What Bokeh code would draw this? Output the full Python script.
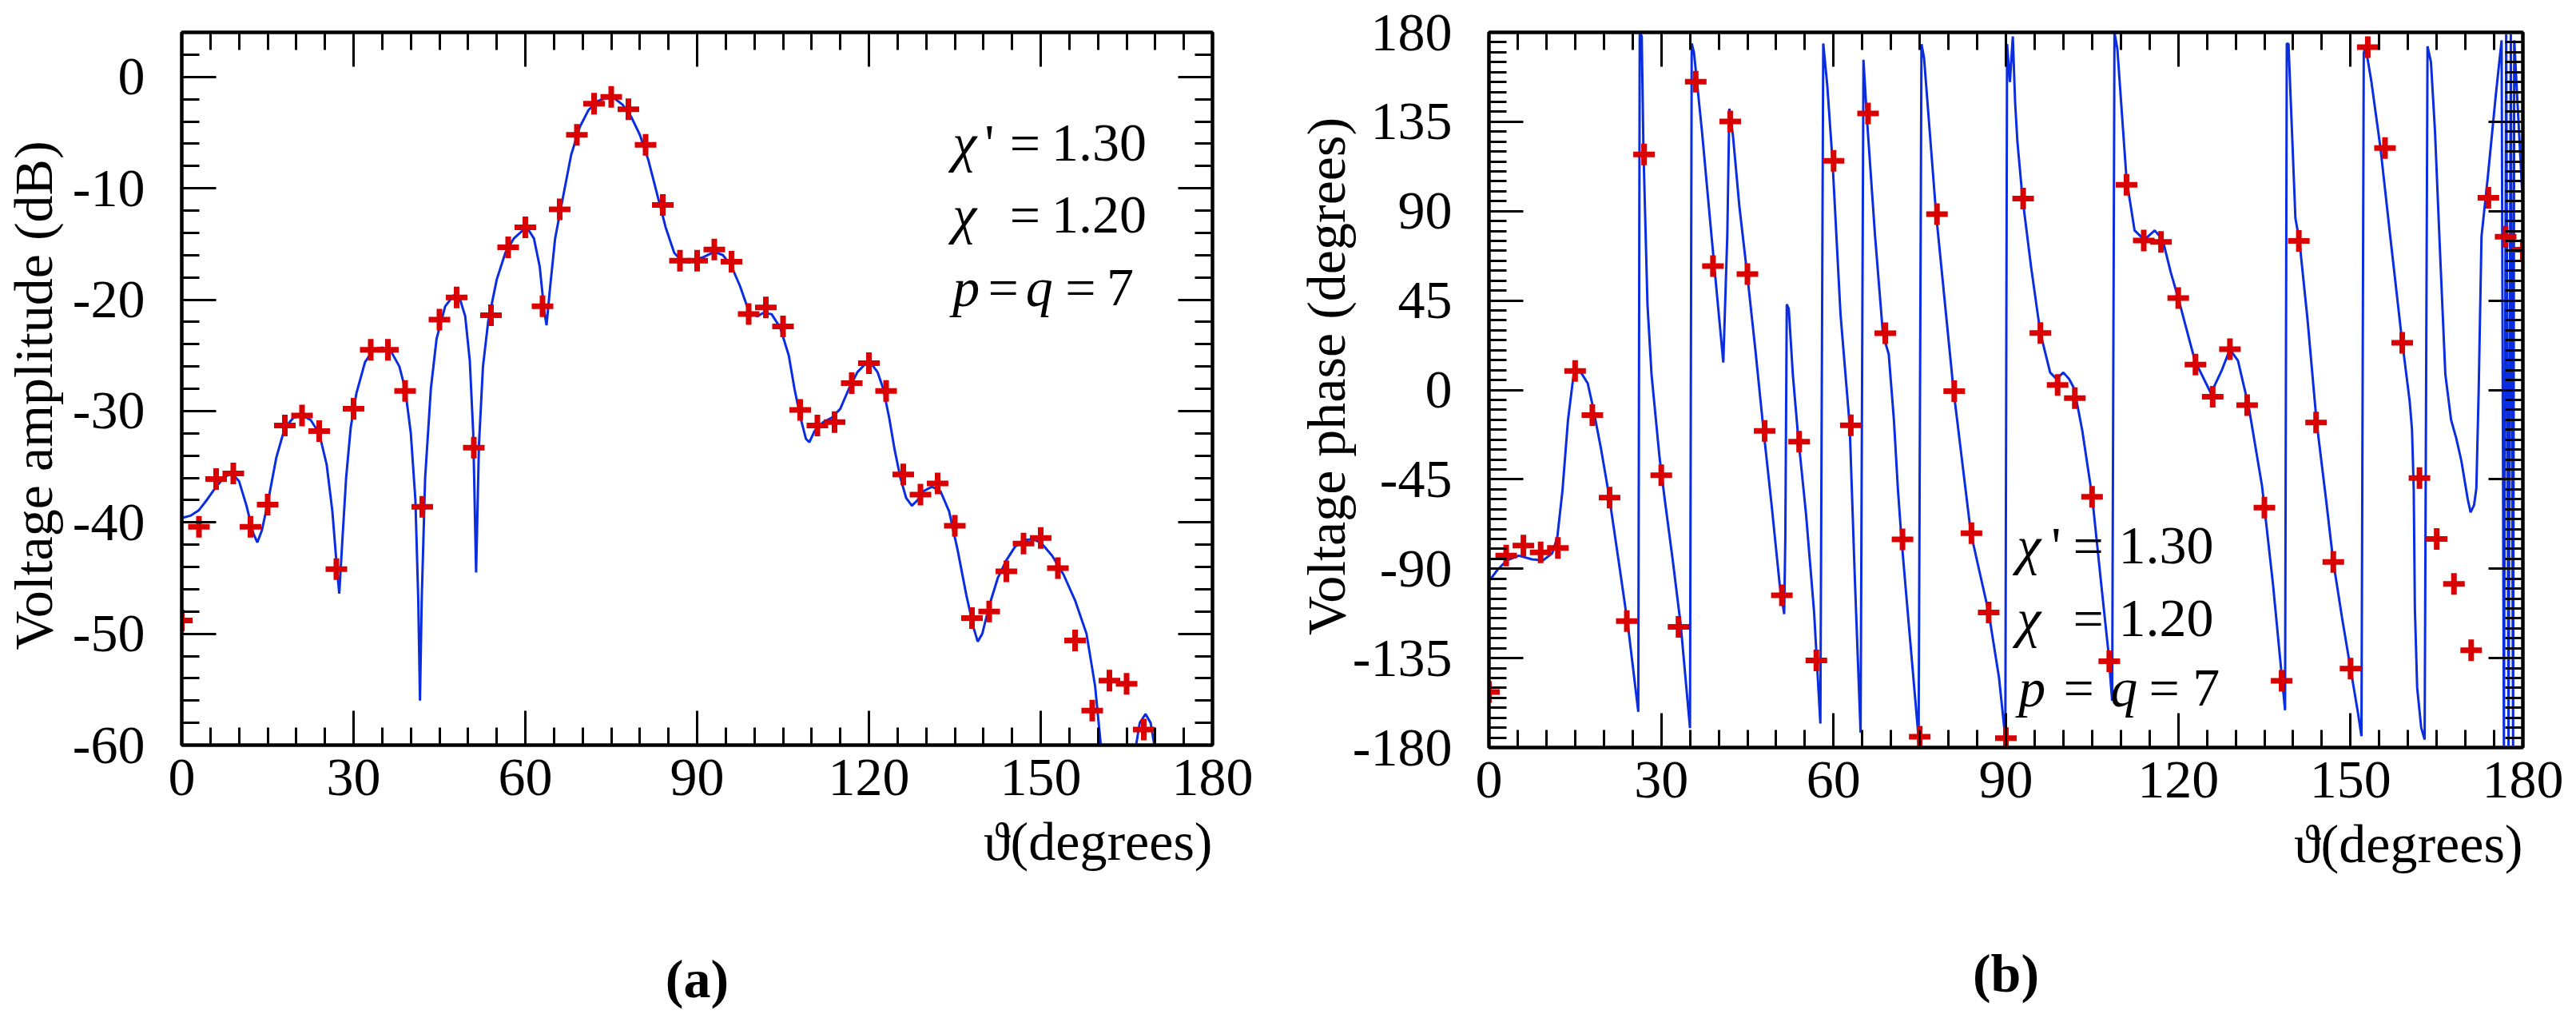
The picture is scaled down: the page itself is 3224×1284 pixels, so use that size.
import math
from bokeh.plotting import figure
from bokeh.models import Range1d, FixedTicker, LinearAxis, Label, Title
from bokeh.layouts import row
from bokeh.embed import file_html
from bokeh.resources import INLINE

# ---------------- panel (a): voltage amplitude ----------------
amp_theta = [0, 3, 6, 9, 12, 15, 18, 21, 24, 27, 30, 33, 36, 39, 42, 45, 48, 51, 54, 57,
             60, 63, 66, 69, 72, 75, 78, 81, 84, 87, 90, 93, 96, 99, 102, 105, 108, 111,
             114, 117, 120, 123, 126, 129, 132, 135, 138, 141, 144, 147, 150, 153, 156,
             159, 162, 165, 168]
amp_db = [-48.8, -40.4, -36.1, -35.6, -40.4, -38.4, -31.3, -30.4, -31.8, -44.2, -29.8,
          -24.5, -24.5, -28.2, -38.6, -21.8, -19.8, -33.3, -21.4, -15.3, -13.5, -20.6,
          -11.9, -5.2, -2.4, -1.8, -2.9, -6.1, -11.5, -16.5, -16.5, -15.5, -16.6, -21.3,
          -20.7, -22.4, -29.9, -31.3, -31.0, -27.5, -25.7, -28.2, -35.7, -37.5, -36.5,
          -40.3, -48.6, -48.0, -44.4, -41.9, -41.4, -44.1, -50.6, -56.9, -54.2, -54.5,
          -58.6]

amp_curve_theta = [0, 1.5, 3, 4.5, 6, 7.5, 8.8, 10, 11.3, 12.5, 13.2, 14, 15, 16.5, 18, 19.5,
                   21, 22.5, 24, 25.3, 26.3, 27, 27.5, 28, 28.7, 29.5, 30.5, 32, 33.5, 35,
                   36.5, 38, 39, 40, 40.8, 41.3, 41.6, 41.9, 42.5, 43.5, 44.5, 46, 47.5,
                   48.5, 49.5, 50.3, 50.9, 51.4, 51.9, 52.6, 53.5, 55, 56.5, 58, 59.5, 60.5,
                   61.5, 62.5, 63.3, 63.7, 64.3, 65.2, 66.5, 68, 69.5, 71, 72.5, 74, 75.5,
                   77, 78.5, 80, 81.5, 83, 84.5, 86, 87.5, 89, 91, 93, 94.5, 96, 97.5, 99,
                   100.5, 101.5, 103, 104.5, 106, 107, 108, 109, 109.6, 110.5, 112, 113.5,
                   115, 116.5, 118, 119.5, 120.5, 121.5, 122.5, 123.5, 124.5, 125.5, 126.5,
                   127.5, 128.5, 129.5, 131, 132.5, 134, 135.5, 137, 138.3, 139, 139.8, 141,
                   142.5, 144, 145.5, 147, 148.5, 150, 152, 154, 156, 158, 159.5, 160.5,
                   161.5, 162.4, 163.2, 164.0, 165.5, 166.5, 167.3, 168.3, 169.2, 170, 171]
amp_curve_db = [-39.6, -39.4, -38.9, -37.9, -36.8, -35.9, -35.6, -36.3, -38.5, -41.0, -41.8,
                -40.7, -38.3, -34.2, -31.5, -30.6, -30.4, -30.8, -32.0, -34.8, -39.0, -43.5,
                -46.4, -42.0, -36.0, -31.5, -28.4, -25.6, -24.5, -24.3, -24.6, -26.0, -28.0,
                -32.0, -38.0, -47.0, -56.0, -47.0, -36.0, -28.0, -23.5, -20.6, -19.6, -19.8,
                -21.5, -25.5, -32.0, -44.5, -33.0, -26.0, -22.0, -18.2, -15.8, -14.5, -13.8,
                -13.7, -14.5, -17.0, -21.0, -22.3, -19.0, -14.5, -11.0, -7.0, -4.5, -3.0,
                -2.2, -1.9, -1.9, -2.5, -3.6, -5.2, -7.5, -10.5, -13.5, -15.8, -16.6, -16.5,
                -16.2, -15.7, -16.0, -17.0, -18.8, -21.0, -21.5, -21.2, -21.3, -22.5, -25.0,
                -28.0, -30.5, -32.5, -32.8, -31.8, -31.0, -30.6, -29.8, -28.0, -26.5, -25.7,
                -25.8, -26.5, -28.0, -30.5, -33.5, -36.0, -37.8, -38.5, -38.0, -37.2, -36.8,
                -37.2, -39.0, -42.5, -46.5, -49.5, -50.7, -50.0, -47.5, -45.0, -43.4, -42.2,
                -41.6, -41.5, -41.8, -43.0, -44.7, -47.0, -50.0, -54.7, -60.0, -64.0, -62.0,
                -59.9, -62.5, -64.0, -60.5, -58.0, -57.2, -58.0, -60.5, -66.0]

# ---------------- panel (b): voltage phase ----------------
ph_theta = [0, 3, 6, 9, 12, 15, 18, 21, 24, 27, 30, 33, 36, 39, 42, 45, 48, 51, 54, 57, 60,
            63, 66, 69, 72, 75, 78, 81, 84, 87, 90, 93, 96, 99, 102, 105, 108, 111, 114, 117,
            120, 123, 126, 129, 132, 135, 138, 141, 144, 147, 150, 153, 156, 159, 162, 165,
            168, 171, 174, 177, 180]
ph_deg = [-152, -83.4, -78.3, -81.8, -79.5, 9.6, -12.7, -54.2, -116.3, 118.6, -42.9, -119.3,
          155.2, 62.3, 135.2, 58.3, -20.6, -103.4, -26, -136.2, 115.3, -17.8, 139.2, 28.6,
          -75.2, -174.6, 88.5, -0.6, -72.1, -112, -175.3, 96.3, 28.7, 2.5, -4.1, -53.8,
          -136.6, 103.3, 75.2, 74.5, 46.3, 12.8, -3.4, 20.5, -7.6, -59.2, -146.4, 75, -16.4,
          -86.6, -140.3, 172.6, 121.8, 23.7, -44.3, -75, -97.6, -131, 96.7, 77.1, 70.6]

ph_curve_theta = [0, 1.5, 3.1, 5.2, 7.5, 9.4, 11, 11.9, 12.8, 13.75, 14.7, 15.8, 17.2, 18.1,
                  19.5, 20.9, 22.8, 24.2, 26.0, 26.25, 26.6, 26.9, 27.6, 28.3, 29.7, 30.6,
                  32.0, 33.4, 35.0, 35.3, 35.7, 37.1, 38.5, 39.4, 40.8, 41.5, 41.85, 42.5,
                  43.6, 45.0, 46.4, 47.8, 49.2, 50.6, 51.4, 51.6, 51.85, 52.2, 52.9, 53.8,
                  55.2, 56.6, 57.7, 58.2, 58.9, 59.8, 61.2, 62.8, 63.7, 64.7, 65.2, 65.8,
                  67.2, 68.6, 69.6, 70.5, 71.2, 71.8, 73.4, 74.8, 75.3, 75.75, 77.85, 80.9,
                  83.9, 87.0, 88.8, 89.9, 90.2, 90.7, 91.2, 91.6, 92.0, 92.9, 94.4, 96.0,
                  97.7, 98.8, 100.0, 101.0, 101.9, 103.3, 105.0, 106.6, 107.8, 108.5, 108.9,
                  109.4, 111.0, 112.4, 114.1, 115.9, 117.3, 118.7, 120.1, 122.9, 125.7,
                  127.6, 129.0, 130.4, 132.3, 134.6, 136.5, 137.9, 138.6, 138.9, 139.2,
                  140.4, 141.1, 142.5, 144.1, 145.7, 147.0, 148.5, 150.0, 151.3, 151.9,
                  152.3, 152.6, 153.6, 155.2, 157.0, 158.9, 160.3, 160.7, 161.0, 161.2,
                  161.6, 162.3, 162.9, 163.4, 164.0, 164.7, 165.6, 166.5, 167.5, 168.4,
                  169.3, 170.4, 170.9, 171.5, 171.9, 172.3, 172.8, 173.9, 175.3, 176.3,
                  176.7, 177.1, 177.5, 177.9, 178.3, 178.5, 180.0]
ph_curve_deg = [-96.3, -90.5, -85.8, -83.4, -85.3, -85.8, -82.3, -74.1, -50.6, -15.5, 6.8,
                9.8, 3.3, -8.5, -29.5, -53.0, -90.5, -118.6, -162.0, 180.0, 178.0, 120.5,
                43.0, 8.0, -34.0, -55.0, -85.8, -118.6, -170.2, 174.4, 169.7, 129.8, 85.3,
                57.2, 13.8, 78.3, 141.6, 127.5, 92.3, 57.2, 19.7, -20.2, -57.7, -97.5,
                -112.8, -74.0, 43.1, 40.8, 8.0, -22.5, -62.4, -111.6, -167.9, 174.4, 153.3,
                115.8, 38.4, -17.8, -95.0, -172.5, 166.2, 136.9, 78.3, 27.9, 18.0, -15.0,
                -50.0, -74.4, -128.4, -175.3, 174.1, 167.1, 88.5, -0.6, -72.1, -112.0,
                -144.8, -175.3, 174.1, 155.0, 178.0, 145.0, 125.0, 96.3, 61.6, 28.7, 8.8,
                5.5, 8.8, 5.5, 0.6, -20.5, -53.3, -97.9, -130.7, -156.5, 180.0, 171.8,
                106.1, 80.3, 75.6, 80.3, 75.6, 59.2, 45.2, 14.7, -1.7, 10.0, 20.5, 14.7,
                -8.8, -48.6, -97.9, -140.1, -161.2, 174.4, 174.2, 86.5, 75.0, 35.8, -16.4,
                -54.3, -86.6, -114.3, -140.3, -162.7, -174.3, 169.6, 173.0, 155.8, 122.0,
                75.0, 26.5, -5.8, -20.0, -50.0, -110.0, -150.0, -170.0, -176.0, 173.0,
                165.0, 130.4, 68.0, 8.0, -15.0, -24.3, -35.8, -55.0, -61.6, -58.0, -49.6,
                -1.2, 77.3, 107.3, 148.8, 176.0, -179.0, 179.0, -179.0, 179.0, -179.0,
                176.0, 93.0]

# ---------------- axes ----------------
x_ticks = [0, 30, 60, 90, 120, 150, 180]
x_tick_labels = ["0", "30", "60", "90", "120", "150", "180"]
x_minor = [0, 5, 10, 15, 20, 25, 30, 35, 40, 45, 50, 55, 60, 65, 70, 75, 80, 85, 90, 95,
           100, 105, 110, 115, 120, 125, 130, 135, 140, 145, 150, 155, 160, 165, 170, 175, 180]
amp_ticks = [-60, -50, -40, -30, -20, -10, 0]
amp_tick_labels = ["-60", "-50", "-40", "-30", "-20", "-10", "0"]
amp_minor = [-60, -58, -56, -54, -52, -50, -48, -46, -44, -42, -40, -38, -36, -34, -32, -30,
             -28, -26, -24, -22, -20, -18, -16, -14, -12, -10, -8, -6, -4, -2, 0, 2, 4]
ph_ticks = [-180, -135, -90, -45, 0, 45, 90, 135, 180]
ph_tick_labels = ["-180", "-135", "-90", "-45", "0", "45", "90", "135", "180"]
ph_minor = [-180, -175, -170, -165, -160, -155, -150, -145, -140, -135, -130, -125, -120,
            -115, -110, -105, -100, -95, -90, -85, -80, -75, -70, -65, -60, -55, -50, -45,
            -40, -35, -30, -25, -20, -15, -10, -5, 0, 5, 10, 15, 20, 25, 30, 35, 40, 45, 50,
            55, 60, 65, 70, 75, 80, 85, 90, 95, 100, 105, 110, 115, 120, 125, 130, 135, 140,
            145, 150, 155, 160, 165, 170, 175, 180]

FONT = "Liberation Serif"
FS = "68px"
BLUE = "#0b2de0"
RED = "#d80000"
NB = "\u00a0"


def make_fig(yrange, yticks, ylabels, yminor, ylab, ylab_standoff,
             bl, br, bt, bb, fw, fh, panel, xlab_standoff, panel_standoff):
    p = figure(frame_width=fw, frame_height=fh, x_range=Range1d(0, 180),
               y_range=Range1d(*yrange), output_backend="svg", toolbar_location=None,
               min_border_left=bl, min_border_right=br, min_border_top=bt,
               min_border_bottom=bb, x_axis_location=None, y_axis_location=None)
    p.xgrid.grid_line_color = None
    p.ygrid.grid_line_color = None
    p.outline_line_color = "black"
    p.outline_line_width = 4
    p.background_fill_color = "white"
    p.border_fill_color = "white"
    xt = FixedTicker(ticks=x_ticks, minor_ticks=x_minor)
    yt = FixedTicker(ticks=yticks, minor_ticks=yminor)
    for side in ["below", "above", "left", "right"]:
        ticker = xt if side in ("below", "above") else yt
        ax = LinearAxis(ticker=ticker)
        ax.axis_line_width = 4
        ax.axis_line_color = "black"
        ax.major_tick_in = 43
        ax.major_tick_out = 0
        ax.minor_tick_in = 22
        ax.minor_tick_out = 0
        ax.major_tick_line_width = 3
        ax.minor_tick_line_width = 3
        ax.major_tick_line_color = "black"
        ax.minor_tick_line_color = "black"
        ax.major_label_text_font = FONT
        ax.major_label_text_color = "black"
        if side == "below":
            ax.major_label_overrides = dict(zip(x_ticks, x_tick_labels))
            ax.major_label_text_font_size = FS
            ax.major_label_standoff = 18
        elif side == "left":
            ax.major_label_overrides = dict(zip(yticks, ylabels))
            ax.major_label_text_font_size = FS
            ax.major_label_standoff = 46
            ax.axis_label = ylab
            ax.axis_label_text_font = FONT
            ax.axis_label_text_font_size = FS
            ax.axis_label_text_font_style = "normal"
            ax.axis_label_text_color = "black"
            ax.axis_label_standoff = ylab_standoff
        else:
            ax.major_label_text_font_size = "1px"
            ax.major_label_text_color = None
            ax.major_label_standoff = 0
        p.add_layout(ax, side)
    t1 = Title(text="ϑ(degrees)", align="right", text_font=FONT, text_font_size=FS,
               text_font_style="normal", text_color="black", standoff=xlab_standoff)
    p.add_layout(t1, "below")
    t2 = Title(text=panel, align="center", text_font=FONT, text_font_size=FS,
               text_font_style="bold", text_color="black", standoff=panel_standoff)
    p.add_layout(t2, "below")
    return p


def add_text(p, x, y, text, style="normal"):
    p.add_layout(Label(x=x, y=y, text=text, text_font=FONT, text_font_size=FS,
                       text_font_style=style, text_color="black", text_align="left",
                       text_baseline="alphabetic"))


# ---- left figure ----
pa = make_fig((-60, 4), amp_ticks, amp_tick_labels, amp_minor,
              "Voltage amplitude (dB)" + NB, 8,
              225, 89, 18, 358, 1290, 892, "(a)", 30, 159)
pa.line(amp_curve_theta, amp_curve_db, line_color=BLUE, line_width=3)
pa.scatter(amp_theta, amp_db, marker="cross", size=27, line_width=7, line_color=RED)

add_text(pa, 134.6, -5.96, "χ", style="italic")
add_text(pa, 140.2, -5.96, "'")
add_text(pa, 144.6, -5.96, "=")
add_text(pa, 151.9, -5.96, "1.30")
add_text(pa, 134.6, -12.4, "χ", style="italic")
add_text(pa, 144.6, -12.4, "=")
add_text(pa, 151.9, -12.4, "1.20")
add_text(pa, 134.6, -18.95, "p", style="italic")
add_text(pa, 140.8, -18.95, "=")
add_text(pa, 147.4, -18.95, "q", style="italic")
add_text(pa, 154.3, -18.95, "=")
add_text(pa, 161.5, -18.95, "7")

# ---- right figure ----
pb = make_fig((-180, 180), ph_ticks, ph_tick_labels, ph_minor,
              NB + NB + "Voltage phase (degrees)", -8,
              257, 53, 40, 333, 1294, 895, "(b)", 30, 139)
pb.line(ph_curve_theta, ph_curve_deg, line_color=BLUE, line_width=3)
pb.scatter(ph_theta, ph_deg, marker="cross", size=27, line_width=7, line_color=RED)

add_text(pb, 91.9, -78.3, "χ", style="italic")
add_text(pb, 97.9, -78.3, "'")
add_text(pb, 101.7, -78.3, "=")
add_text(pb, 109.6, -78.3, "1.30")
add_text(pb, 91.9, -114.9, "χ", style="italic")
add_text(pb, 101.7, -114.9, "=")
add_text(pb, 109.6, -114.9, "1.20")
add_text(pb, 92.2, -149.9, "p", style="italic")
add_text(pb, 100.0, -149.9, "=")
add_text(pb, 108.2, -149.9, "q", style="italic")
add_text(pb, 114.9, -149.9, "=")
add_text(pb, 122.5, -149.9, "7")

layout = row(pa, pb)
open("out.html", "w").write(file_html(layout, INLINE))
